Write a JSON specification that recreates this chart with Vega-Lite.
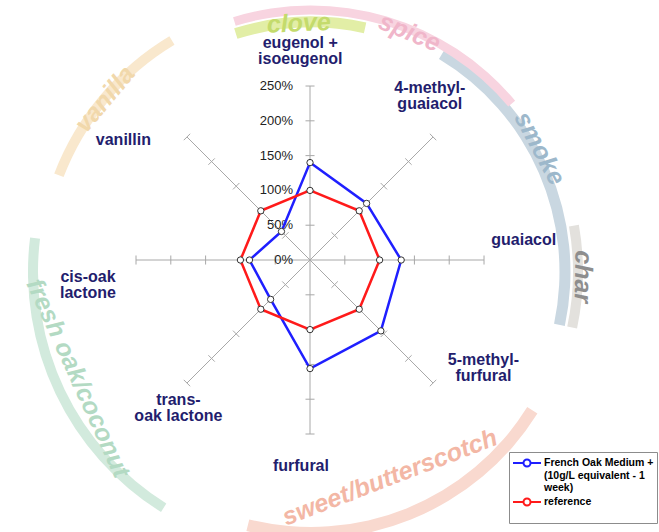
{
 "$schema": "https://vega.github.io/schema/vega-lite/v6.json",
 "width": 659, "height": 532,
 "autosize": {"type": "none"},
 "padding": 0,
 "background": "white",
 "config": {"view": {"stroke": null}, "font": "Liberation Sans"},
 "datasets": {
  "compounds": [
   {"i": 0, "compound": "eugenol +\nisoeugenol"},
   {"i": 1, "compound": "4-methyl-\nguaiacol"},
   {"i": 2, "compound": "guaiacol"},
   {"i": 3, "compound": "5-methyl-\nfurfural"},
   {"i": 4, "compound": "furfural"},
   {"i": 5, "compound": "trans-\noak lactone"},
   {"i": 6, "compound": "cis-oak\nlactone"},
   {"i": 7, "compound": "vanillin"}
  ],
  "scores": [
   {"series": "French Oak Medium + (10g/L equivalent - 1 week)", "i": 0, "compound": "eugenol + isoeugenol", "value": 140},
   {"series": "French Oak Medium + (10g/L equivalent - 1 week)", "i": 1, "compound": "4-methyl-guaiacol", "value": 115},
   {"series": "French Oak Medium + (10g/L equivalent - 1 week)", "i": 2, "compound": "guaiacol", "value": 131},
   {"series": "French Oak Medium + (10g/L equivalent - 1 week)", "i": 3, "compound": "5-methyl-furfural", "value": 144},
   {"series": "French Oak Medium + (10g/L equivalent - 1 week)", "i": 4, "compound": "furfural", "value": 156},
   {"series": "French Oak Medium + (10g/L equivalent - 1 week)", "i": 5, "compound": "trans-oak lactone", "value": 80},
   {"series": "French Oak Medium + (10g/L equivalent - 1 week)", "i": 6, "compound": "cis-oak lactone", "value": 87},
   {"series": "French Oak Medium + (10g/L equivalent - 1 week)", "i": 7, "compound": "vanillin", "value": 58},
   {"series": "reference", "i": 0, "compound": "eugenol + isoeugenol", "value": 100},
   {"series": "reference", "i": 1, "compound": "4-methyl-guaiacol", "value": 100},
   {"series": "reference", "i": 2, "compound": "guaiacol", "value": 100},
   {"series": "reference", "i": 3, "compound": "5-methyl-furfural", "value": 100},
   {"series": "reference", "i": 4, "compound": "furfural", "value": 100},
   {"series": "reference", "i": 5, "compound": "trans-oak lactone", "value": 100},
   {"series": "reference", "i": 6, "compound": "cis-oak lactone", "value": 100},
   {"series": "reference", "i": 7, "compound": "vanillin", "value": 100}
  ],
  "flavors": [
   {"flavor": "sweet/butterscotch", "from": 122, "to": 194},
   {"flavor": "fresh oak/coconut", "from": 212, "to": 277},
   {"flavor": "vanilla", "from": 291, "to": 329},
   {"flavor": "char", "from": 80, "to": 102},
   {"flavor": "smoke", "from": 31, "to": 102},
   {"flavor": "spice", "from": -17, "to": 50},
   {"flavor": "clove", "from": -17.5, "to": 12.5}
  ],
  "gridLabels": [{"t": 0}, {"t": 50}, {"t": 100}, {"t": 150}, {"t": 200}, {"t": 250}]
 },
 "layer": [
  {
   "data": {"name": "flavors"},
   "transform": [
    {"calculate": "indexof(['clove','spice','smoke','char','vanilla','fresh oak/coconut','sweet/butterscotch'], datum.flavor)", "as": "k"},
    {"calculate": "[250,262,254,267,270,278,261][datum.k]", "as": "rm"},
    {"calculate": "[11,9,11,10,10,10,12][datum.k]", "as": "th"},
    {"calculate": "datum.rm - datum.th/2", "as": "r0"},
    {"calculate": "datum.rm + datum.th/2", "as": "r1"},
    {"calculate": "['#e2eea6','#f8d4e0','#c9d7e1','#e3e1dd','#f9e8cd','#d2eadd','#f9d9cf'][datum.k]", "as": "bandColor"}
   ],
   "mark": {"type": "arc"},
   "encoding": {
    "x": {"datum": 1.4, "type": "quantitative", "scale": {"domain": [-445.4, 501.4], "nice": false, "zero": false}, "axis": null},
    "y": {"datum": -17.2, "type": "quantitative", "scale": {"domain": [-390.8, 373.6], "nice": false, "zero": false}, "axis": null},
    "theta": {"field": "from", "type": "quantitative", "scale": {"type": "linear", "domain": [0, 360], "range": [0, 6.283185307], "zero": false, "nice": false}, "stack": null},
    "theta2": {"field": "to"},
    "radius": {"field": "r0", "type": "quantitative", "scale": {"type": "linear", "domain": [0, 300], "range": [0, 300], "zero": true, "nice": false}},
    "radius2": {"field": "r1"},
    "fill": {"field": "bandColor", "type": "nominal", "scale": null}
   }
  },
  {
   "data": {"name": "flavors"},
   "transform": [
    {"calculate": "indexof(['clove','spice','smoke','char','vanilla','fresh oak/coconut','sweet/butterscotch'], datum.flavor)", "as": "k"},
    {"calculate": "[-2.8,22.4,61.6,91,310,245.5,159][datum.k]", "as": "phid"},
    {"calculate": "[249,259,260,272,269,256,220][datum.k]", "as": "tr"},
    {"calculate": "(datum.phid > 100 && datum.phid < 260) ? datum.phid - 180 : datum.phid", "as": "rot"},
    {"calculate": "['#c4db6c','#f0b6ca','#9db8cb','#8e8e8e','#f1d8ab','#b3dac3','#f3b7a5'][datum.k]", "as": "textColor"}
   ],
   "mark": {"type": "text", "fontSize": 25, "fontStyle": "italic", "fontWeight": "bold", "align": "center", "baseline": "middle"},
   "encoding": {
    "x": {"datum": 1.4, "type": "quantitative", "axis": null},
    "y": {"datum": -17.2, "type": "quantitative", "axis": null},
    "theta": {"field": "phid", "type": "quantitative", "stack": null},
    "radius": {"field": "tr", "type": "quantitative"},
    "angle": {"field": "rot", "type": "quantitative", "scale": {"type": "linear", "domain": [-360, 360], "range": [-360, 360], "zero": false, "nice": false}},
    "text": {"field": "flavor"},
    "fill": {"field": "textColor", "type": "nominal", "scale": null}
   }
  },
  {
   "data": {"name": "compounds"},
   "transform": [
    {"calculate": "PI/2 - datum.i*PI/4", "as": "a"},
    {"calculate": "0", "as": "o"},
    {"calculate": "250*cos(datum.a)", "as": "ex"},
    {"calculate": "250*sin(datum.a)", "as": "ey"}
   ],
   "mark": {"type": "rule", "color": "#a8a8a8", "strokeWidth": 1},
   "encoding": {
    "x": {"field": "o", "type": "quantitative", "axis": null},
    "y": {"field": "o", "type": "quantitative", "axis": null},
    "x2": {"field": "ex"},
    "y2": {"field": "ey"}
   }
  },
  {
   "data": {"name": "compounds"},
   "transform": [
    {"calculate": "PI/2 - datum.i*PI/4", "as": "a"},
    {"calculate": "[50,100,150,200,250]", "as": "tk"},
    {"flatten": ["tk"]},
    {"calculate": "datum.tk*cos(datum.a) - 6.5*sin(datum.a)", "as": "xa"},
    {"calculate": "datum.tk*sin(datum.a) + 6.5*cos(datum.a)", "as": "ya"},
    {"calculate": "datum.tk*cos(datum.a) + 6.5*sin(datum.a)", "as": "xb"},
    {"calculate": "datum.tk*sin(datum.a) - 6.5*cos(datum.a)", "as": "yb"}
   ],
   "mark": {"type": "rule", "color": "#a8a8a8", "strokeWidth": 1},
   "encoding": {
    "x": {"field": "xa", "type": "quantitative", "axis": null},
    "y": {"field": "ya", "type": "quantitative", "axis": null},
    "x2": {"field": "xb"},
    "y2": {"field": "yb"}
   }
  },
  {
   "data": {"name": "gridLabels"},
   "transform": [{"calculate": "datum.t + '%'", "as": "lab"}, {"calculate": "0", "as": "o"}],
   "mark": {"type": "text", "align": "right", "baseline": "middle", "dx": -17, "fontSize": 13, "color": "#222222"},
   "encoding": {
    "x": {"field": "o", "type": "quantitative", "axis": null},
    "y": {"field": "t", "type": "quantitative", "axis": null},
    "text": {"field": "lab"}
   }
  },
  {
   "data": {"name": "compounds"},
   "transform": [
    {"calculate": "PI/2 - datum.i*PI/4", "as": "a"},
    {"calculate": "300*cos(datum.a) + [-14,-40,7,37,-13,23,-19,-56][datum.i]", "as": "lx"},
    {"calculate": "300*sin(datum.a) + [12.5,34.5,29,68.5,4,11.5,-24.5,-39][datum.i]", "as": "ly"}
   ],
   "mark": {"type": "text", "align": "center", "baseline": "middle", "fontSize": 16, "fontWeight": "bold", "color": "#231d6d", "lineBreak": "\n", "lineHeight": 16},
   "encoding": {
    "x": {"field": "lx", "type": "quantitative", "axis": null},
    "y": {"field": "ly", "type": "quantitative", "axis": null},
    "text": {"field": "compound"}
   }
  },
  {
   "data": {"name": "scores"},
   "transform": [
    {"calculate": "PI/2 - datum.i*PI/4", "as": "a"},
    {"calculate": "datum.value*cos(datum.a)", "as": "px"},
    {"calculate": "datum.value*sin(datum.a)", "as": "py"}
   ],
   "mark": {"type": "line", "interpolate": "linear-closed", "strokeWidth": 2.5},
   "encoding": {
    "x": {"field": "px", "type": "quantitative", "axis": null},
    "y": {"field": "py", "type": "quantitative", "axis": null},
    "order": {"field": "i", "type": "quantitative"},
    "color": {
     "field": "series", "type": "nominal",
     "scale": {"domain": ["French Oak Medium + (10g/L equivalent - 1 week)", "reference"], "range": ["#1f1fff", "#ff1a1a"]},
     "legend": {
      "title": null, "orient": "none", "legendX": 509, "legendY": 452,
      "padding": 3, "fillColor": "white", "strokeColor": "#8c8c8c",
      "labelFont": "Liberation Sans", "labelFontWeight": "bold", "labelFontSize": 10.5, "labelColor": "black",
      "labelLimit": 400, "labelOffset": 16, "rowPadding": -4,
      "symbolType": "M-1,0L0.5,0M1.5,0L3,0M1.5,0A0.5,0.5,0,1,1,0.5,0A0.5,0.5,0,1,1,1.5,0",
      "symbolSize": 196, "symbolStrokeWidth": 2, "symbolFillColor": "white",
      "labelExpr": "datum.label == 'reference' ? ['reference', ' '] : ['French Oak Medium +', '(10g/L equivalent - 1', 'week)']"
     }
    }
   }
  },
  {
   "data": {"name": "scores"},
   "transform": [
    {"calculate": "PI/2 - datum.i*PI/4", "as": "a"},
    {"calculate": "datum.value*cos(datum.a)", "as": "px"},
    {"calculate": "datum.value*sin(datum.a)", "as": "py"}
   ],
   "mark": {"type": "circle", "size": 40, "fill": "white", "stroke": "#333333", "strokeWidth": 1, "opacity": 1},
   "encoding": {
    "x": {"field": "px", "type": "quantitative", "axis": null},
    "y": {"field": "py", "type": "quantitative", "axis": null}
   }
  }
 ]
}
